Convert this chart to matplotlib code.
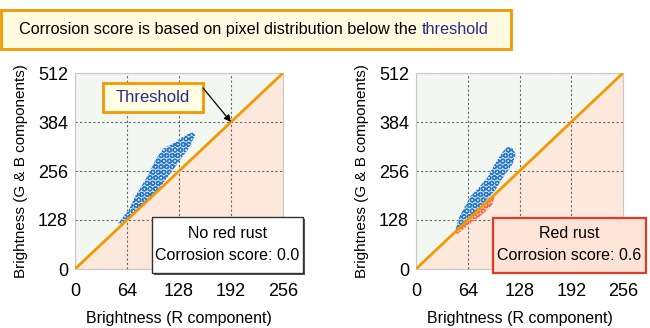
import numpy as np
import matplotlib
matplotlib.use("Agg")
import matplotlib.pyplot as plt
from matplotlib.patches import Rectangle, Polygon

plt.rcParams['font.family'] = ['Liberation Sans', 'DejaVu Sans']
plt.rcParams['hatch.linewidth'] = 0.9

# axis ticks
x_ticks = [0, 64, 128, 192, 256]
y_ticks = [0, 128, 256, 384, 512]
thr_x = [0, 256]
thr_y = [0, 512]

# outlines of the pixel clouds (R, G+B)
left_blue_x = [53, 66, 74, 84, 92, 100, 109, 121, 133, 144, 148, 140, 129, 119, 105, 88, 72, 57]
left_blue_y = [119, 154, 189, 224, 254, 289, 315, 328, 346, 357, 350, 315, 285, 254, 215, 176, 141, 119]

right_blue_x = [48, 54, 67, 77, 89, 98, 106, 112, 118, 123, 120, 108, 98, 85, 69, 52]
right_blue_y = [97, 137, 189, 211, 241, 276, 302, 318, 319, 302, 276, 241, 206, 176, 141, 102]

right_red_x = [48, 70, 90, 98, 94, 81, 65, 52]
right_red_y = [94, 136, 176, 193, 167, 141, 115, 92]

blue = '#2a78c8'
blue_fill = '#cfe2f5'
red = '#ea6a4c'
red_fill = '#fbd3c4'
green_bg = '#f2f8f1'
peach_bg = '#fde9dc'
orange = '#f39800'

fig = plt.figure(figsize=(6.5, 3.28), dpi=100)

def panel(rect, clouds):
    ax = fig.add_axes(rect)
    xs = np.array(thr_x, dtype=float)
    ys = np.array(thr_y, dtype=float)
    ax.fill_between(xs, ys, 512, color=green_bg, lw=0, zorder=0)
    ax.fill_between(xs, 0, ys, color=peach_bg, lw=0, zorder=0)
    ax.set_xlim(0, 256)
    ax.set_ylim(0, 512)
    ax.set_xticks(x_ticks)
    ax.set_yticks(y_ticks)
    ax.grid(True, color='#666666', ls=(0, (2, 2)), lw=0.8)
    ax.set_axisbelow(True)
    ax.tick_params(length=0, labelsize=13)
    ax.tick_params(axis='x', pad=10)
    ax.tick_params(axis='y', pad=5)
    for s in ax.spines.values():
        s.set_color('#c8c8c8')
        s.set_linewidth(0.8)
    for cx, cy, col, fc in clouds:
        ax.add_patch(Polygon(np.column_stack([cx, cy]), closed=True, facecolor=fc,
                             edgecolor=col, hatch='OOO', lw=0, zorder=3))
    ax.plot(thr_x, thr_y, color=orange, lw=2, zorder=4, solid_capstyle='butt')
    ax.set_xlabel('Brightness (R component)', fontsize=11.5, labelpad=8)
    ax.set_ylabel('Brightness (G & B components)', fontsize=11, labelpad=7)
    return ax

ax1 = panel([75/650, 59/328, 208/650, 196/328], [(left_blue_x, left_blue_y, blue, blue_fill)])
ax2 = panel([416/650, 59/328, 207/650, 196/328],
            [(right_blue_x, right_blue_y, blue, blue_fill),
             (right_red_x, right_red_y, red, red_fill)])

# threshold callout
ax1.add_patch(Rectangle((0.135, 0.80), 0.48, 0.148, transform=ax1.transAxes,
                        facecolor='#fffde3', edgecolor=orange, lw=2, zorder=6, clip_on=False))
ax1.text(0.375, 0.874, 'Threshold', transform=ax1.transAxes, ha='center', va='center',
         color='#2b2b8c', fontsize=12, zorder=7)
ax1.annotate('', xy=(192, 384), xytext=(157.5, 473),
             arrowprops=dict(arrowstyle='-|>', color='black', lw=0.9, mutation_scale=10,
                             shrinkA=0, shrinkB=0), zorder=7)

# result boxes
fig.patches.append(Rectangle((153.5/650, 53.5/328), 151/650, 56/328, transform=fig.transFigure,
                             facecolor='#555555', edgecolor='none', zorder=9))
fig.patches.append(Rectangle((152/650, 55/328), 151/650, 56/328, transform=fig.transFigure,
                             facecolor='white', edgecolor='#333333', lw=1.0, zorder=10))
fig.text(227.5/650, 94/328, 'No red rust', ha='center', va='center', fontsize=11.5, zorder=11)
fig.text(227.5/650, 73/328, 'Corrosion score: 0.0', ha='center', va='center', fontsize=11.5, zorder=11)

fig.patches.append(Rectangle((493/650, 55/328), 153/650, 55/328, transform=fig.transFigure,
                             facecolor='#fde2d6', edgecolor='#e03a28', lw=1.6, zorder=10))
fig.text(569.5/650, 94/328, 'Red rust', ha='center', va='center', fontsize=11.5, zorder=11)
fig.text(569.5/650, 73/328, 'Corrosion score: 0.6', ha='center', va='center', fontsize=11.5, zorder=11)

# title box
fig.patches.append(Rectangle((1/650, 279/328), 510/650, 39/328, transform=fig.transFigure,
                             facecolor='#fffbe0', edgecolor='#f39800', lw=2, zorder=10))
t = fig.text(19/650, 298.5/328, 'Corrosion score is based on pixel distribution below the ',
             ha='left', va='center', fontsize=11.7, zorder=11)
fig.canvas.draw()
bb = t.get_window_extent()
fig.text(bb.x1 / fig.bbox.width, 298.5/328, 'threshold', ha='left', va='center',
         color='#2b2b8c', fontsize=11.7, zorder=11)

fig.savefig('out.png', dpi=100)
